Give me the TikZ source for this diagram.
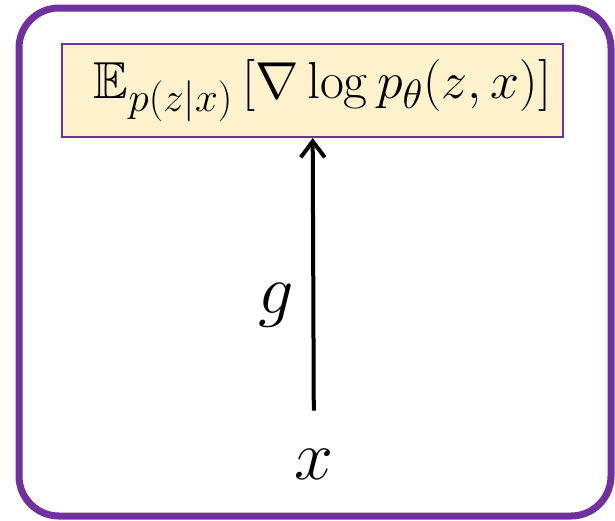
\RequirePackage{fix-cm}
\documentclass[tikz,border=0pt]{standalone}
\usepackage{amsmath}
\usepackage{amssymb}
\DeclareFontFamily{U}{msb}{}
\DeclareFontShape{U}{msb}{m}{n}{<-6> msbm5 <6-8> msbm7 <8-> msbm10}{}
\DeclareMathSizes{26}{26}{20.5}{15}
\usetikzlibrary{arrows.meta}
\definecolor{vpurple}{HTML}{7030A0}
\definecolor{vyellow}{HTML}{FFF2CC}
\tikzstyle{arrow} = [line width=2pt, -{Straight Barb[length=8pt,width=12pt]}]
\tikzstyle{gradbox} = [draw=vpurple, line width=1pt, fill=vyellow, minimum width=250.5pt, minimum height=46.5pt, inner sep=0pt, font=\fontsize{26}{31}\selectfont]
\tikzstyle{bigmath} = [inner sep=0pt, font=\fontsize{35}{42}\selectfont]

\begin{document}
\begin{tikzpicture}[x=0.5pt,y=-0.5pt]
            \useasboundingbox (0,0) rectangle (615,520);
            \draw [vpurple, line width=3.5pt, rounded corners=20pt] (19,8) rectangle (611,516);
            \node [gradbox] (grad) at (312.5,90.5) {\hspace*{10pt}$\mathbb{E}_{p(z|x)}\,[\nabla\log p_\theta(z,x)]$};
            \node [bigmath] (xin) at (314,464) {$x$};
            \draw [arrow, shorten <=19pt] (xin) -- node [bigmath, pos=0.46, left=9pt] (glabel) {$g$} (grad);
            \end{tikzpicture}
\end{document}
